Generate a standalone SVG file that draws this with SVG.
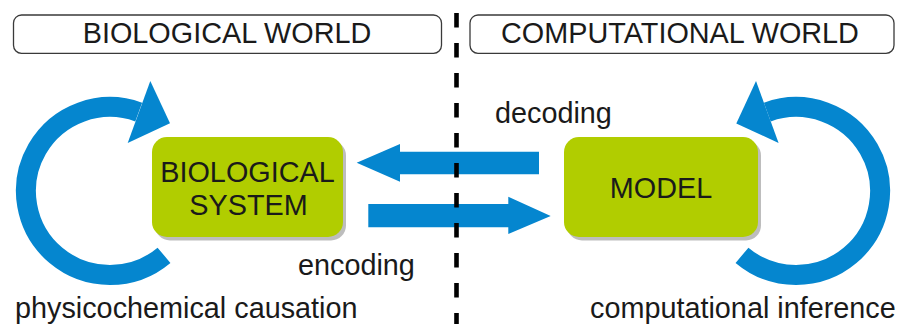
<svg xmlns="http://www.w3.org/2000/svg" width="898" height="324" viewBox="0 0 898 324">
  <style>
    text { font-family: "Liberation Sans", Arial, sans-serif; font-size: 28.8px; fill: #1a1a1a; }
    .mid { text-anchor: middle; }
    .title-box { fill: #ffffff; stroke: #3a3a3a; stroke-width: 1.3; }
    .node-box { fill: #b1cd00; }
    .node-shadow { fill: #bdbdbd; }
    .loop { fill: none; stroke: #0586cf; stroke-width: 20; stroke-linecap: butt; }
    .blue { fill: #0586cf; }
    .divider { stroke: #000000; stroke-width: 4.6; stroke-dasharray: 14.6 15.4; }
  </style>

  <!-- section headers -->
  <g id="header-biological">
    <rect class="title-box" x="13.5" y="15" width="428" height="38.3" rx="8"/>
    <text class="mid" x="227" y="43">BIOLOGICAL WORLD</text>
  </g>
  <g id="header-computational">
    <rect class="title-box" x="470" y="15" width="424" height="38.3" rx="8"/>
    <text class="mid" x="680" y="43">COMPUTATIONAL WORLD</text>
  </g>

  <!-- nodes -->
  <g id="biological-system">
    <rect class="node-shadow" x="155" y="140.5" width="191" height="100" rx="15"/>
    <rect class="node-box" x="152" y="137" width="191" height="100" rx="15"/>
    <text class="mid" x="247.5" y="182">BIOLOGICAL</text>
    <text class="mid" x="248.5" y="215">SYSTEM</text>
  </g>
  <g id="model">
    <rect class="node-shadow" x="567" y="140.5" width="194" height="100" rx="15"/>
    <rect class="node-box" x="564" y="137" width="194" height="100" rx="15"/>
    <text class="mid" x="661" y="198">MODEL</text>
  </g>

  <!-- connectors -->
  <g id="connectors">
    <!-- physicochemical causation loop -->
    <path class="loop" d="M164,255.3 A84,84 0 1 1 138.7,112.1"/>
    <polygon class="blue" points="150.3,81 170,123.3 127.7,143"/>
    <!-- computational inference loop -->
    <path class="loop" d="M742,255.3 A84,84 0 1 0 767.3,112.1"/>
    <polygon class="blue" points="756,81 736.3,123.4 778.6,143"/>
    <!-- decoding: model to biological system -->
    <polygon class="blue" points="539,151.7 400,151.7 400,144 356.7,162.8 400,181.7 400,174.3 539,174.3"/>
    <!-- encoding: biological system to model -->
    <polygon class="blue" points="368.3,204 508.3,204 508.3,196.7 550.7,216 508.3,234 508.3,227.3 368.3,227.3"/>
  </g>

  <!-- divider between the two worlds -->
  <line class="divider" x1="456.5" y1="13" x2="456.5" y2="324"/>

  <!-- labels -->
  <text x="495" y="123">decoding</text>
  <text x="298" y="275">encoding</text>
  <text x="15" y="318">physicochemical causation</text>
  <text x="590" y="318">computational inference</text>
</svg>
